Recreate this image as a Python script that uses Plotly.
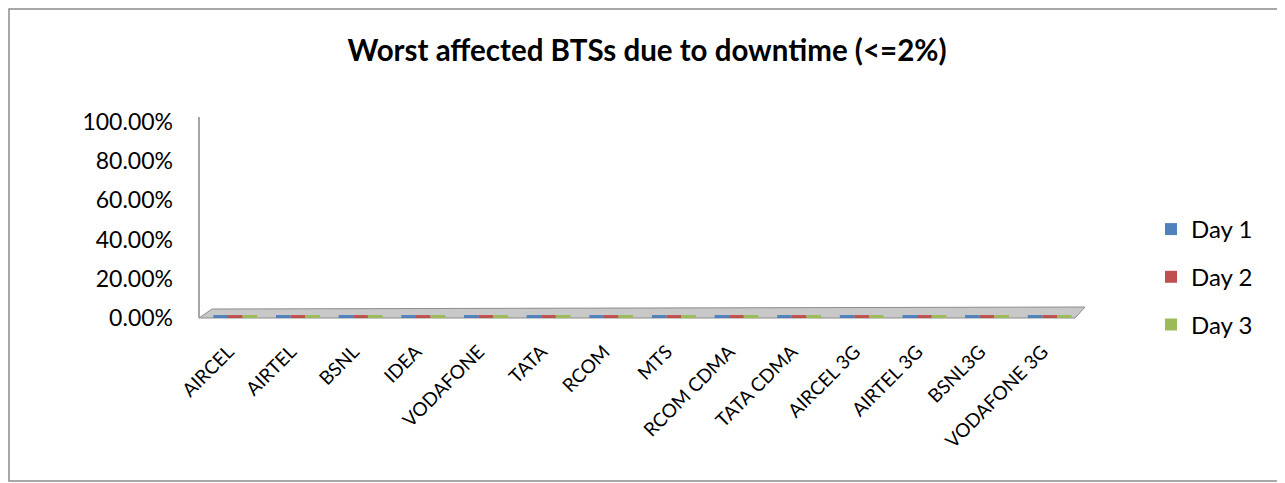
import plotly.graph_objects as go

categories = ["AIRCEL", "AIRTEL", "BSNL", "IDEA", "VODAFONE", "TATA", "RCOM", "MTS",
              "RCOM CDMA", "TATA CDMA", "AIRCEL 3G", "AIRTEL 3G", "BSNL3G", "VODAFONE 3G"]
day1 = [0.015] * 14
day2 = [0.015] * 14
day3 = [0.015] * 14
series_names = ["Day 1", "Day 2", "Day 3"]
colors = ["#4F81BD", "#C0504D", "#9BBB59"]
y_ticks = [0, 0.2, 0.4, 0.6, 0.8, 1.0]

fig = go.Figure()
for i, (name, vals) in enumerate(zip(series_names, [day1, day2, day3])):
    fig.add_trace(go.Bar(x=categories, y=vals, name=name, marker_color=colors[i],
                         marker_line_width=0, legendgroup=name))

OFF = 8  # page body margin
L, R, T, B = 196, 212, 114, 173
W, H = 1285, 483
pw, ph = W - L - R, H - T - B

def px(sx):
    return (sx - OFF - L) / pw

def py(sy):
    return (H - B - (sy - OFF)) / ph

shapes = [
    # outer border
    dict(type="rect", xref="paper", yref="paper", x0=px(9), x1=px(1283), y0=py(481), y1=py(9),
         line=dict(color="#8c8c8c", width=1.5), fillcolor="rgba(0,0,0,0)", layer="below"),
    # 3D floor
    dict(type="path", xref="paper", yref="paper",
         path=f"M {px(199)},{py(318)} L {px(212)},{py(309)} L {px(1085)},{py(307)} L {px(1075)},{py(318)} Z",
         fillcolor="#c8c8c8", line=dict(color="#8c8c8c", width=1), layer="below"),
    # back wall edge
    dict(type="line", xref="paper", yref="paper", x0=px(199), x1=px(199), y0=py(318), y1=py(117),
         line=dict(color="#a6a6a6", width=2), layer="below"),
]

FONT = "Lato, Open Sans, sans-serif"
fig.update_layout(
    width=W, height=H,
    margin=dict(l=L, r=R, t=T, b=B, autoexpand=False),
    paper_bgcolor="white", plot_bgcolor="white",
    barmode="group", bargap=0.30, bargroupgap=0,
    font=dict(family=FONT, color="#000000"),
    title=dict(text="<b>Worst affected BTSs due to downtime (<=2%)</b>",
               x=(647 - OFF) / W, xref="container", xanchor="center", y=1 - 43 / H, yanchor="middle",
               font=dict(size=29.5, family=FONT, color="#000000")),
    showlegend=True,
    legend=dict(x=px(1151), y=py(207), xanchor="left", yanchor="top",
                font=dict(size=24), traceorder="grouped", tracegroupgap=13.5,
                itemwidth=30, bgcolor="rgba(0,0,0,0)"),
    shapes=shapes,
)
fig.update_xaxes(showgrid=False, showline=False, zeroline=False, tickangle=-45,
                 tickfont=dict(size=19), ticks="", ticklabelstandoff=18, ticklabelshift=-7,
                 automargin=False)
fig.update_yaxes(range=[0, 1], tickvals=y_ticks, tickformat=".2%", showgrid=False,
                 showline=False, zeroline=False, tickfont=dict(size=23), ticks="",
                 ticklabelstandoff=30, automargin=False)

fig.write_html("out.html")
